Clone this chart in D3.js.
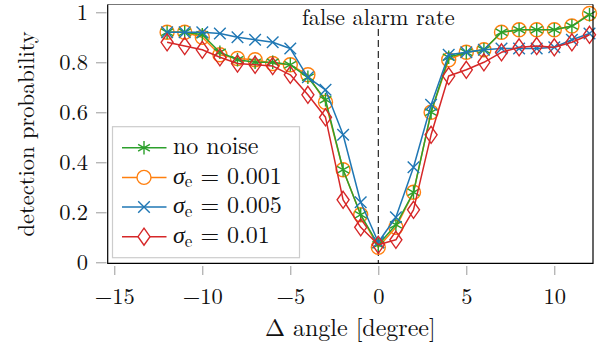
<!DOCTYPE html>
<html><head><meta charset="utf-8">
<script src="https://cdn.jsdelivr.net/npm/d3@7"></script>
<style>
body{margin:0;background:#fff;}
</style></head>
<body>
<svg id="chart" width="608" height="352"></svg>
<script>
// ---- data ----
const angles = [-12,-11,-10,-9,-8,-7,-6,-5,-4,-3,-2,-1,0,1,2,3,4,5,6,7,8,9,10,11,12];
const noNoise   = [0.92,0.92,0.91,0.84,0.81,0.80,0.80,0.79,0.74,0.65,0.37,0.19,0.07,0.15,0.28,0.60,0.82,0.84,0.85,0.92,0.93,0.93,0.93,0.945,0.99];
const sigma001  = [0.92,0.92,0.90,0.83,0.815,0.81,0.795,0.79,0.75,0.64,0.37,0.19,0.06,0.14,0.28,0.60,0.81,0.84,0.85,0.92,0.93,0.93,0.93,0.945,0.995];
const sigma005  = [0.92,0.92,0.92,0.915,0.90,0.89,0.88,0.855,0.74,0.69,0.51,0.24,0.08,0.18,0.38,0.63,0.83,0.84,0.85,0.855,0.855,0.855,0.86,0.89,0.915];
const sigma01   = [0.88,0.865,0.85,0.82,0.795,0.79,0.785,0.75,0.67,0.58,0.25,0.14,0.07,0.09,0.21,0.51,0.745,0.77,0.80,0.84,0.86,0.865,0.86,0.88,0.91];
const xTicks = [-15,-10,-5,0,5,10];
const yTicks = [0,0.2,0.4,0.6,0.8,1];
const seriesNames = ["no noise","σe = 0.001","σe = 0.005","σe = 0.01"];
const xLabel = "Δ angle [degree]";
const yLabel = "detection probability";
const annotation = "false alarm rate";

// ---- layout ----
const box = {left:107.7, right:593, top:4.5, bottom:263.3};
const x = d3.scaleLinear().domain([-15,10]).range([114.3,554.3]);
const y = d3.scaleLinear().domain([0,1]).range([262.3,12.3]);
const FS_TICK = 22.5, FS_ANN = 22.4, FS_XLAB = 24, FS_YLAB = 22.5, FS_LEG = 24;
const FF = '"Latin Modern Roman","Liberation Serif",serif';

const svg = d3.select("#chart");

const series = [
  {name:seriesNames[1], values:sigma001, color:"#ff7f0e", mark:"circle"},
  {name:seriesNames[0], values:noNoise,  color:"#2ca02c", mark:"asterisk"},
  {name:seriesNames[2], values:sigma005, color:"#1f77b4", mark:"cross"},
  {name:seriesNames[3], values:sigma01,  color:"#d62728", mark:"diamond"}
];
const legendOrder = [1,0,2,3];

function markPath(type){
  if(type==="circle"){ const r=7; return `M${r},0A${r},${r} 0 1,1 ${-r},0A${r},${r} 0 1,1 ${r},0Z`; }
  if(type==="cross"){ const s=5.8; return `M${-s},${-s}L${s},${s}M${-s},${s}L${s},${-s}`; }
  if(type==="diamond"){ const w=6,h=8.5; return `M0,${-h}L${w},0L0,${h}L${-w},0Z`; }
  if(type==="asterisk"){ const r=6.8; let p=""; [90,30,150].forEach(a=>{const c=Math.cos(a*Math.PI/180)*r,s=Math.sin(a*Math.PI/180)*r; p+=`M${-c},${-s}L${c},${s}`;}); return p; }
}

// axes
const xAxis = d3.axisBottom(x).tickValues(xTicks).tickSize(9).tickPadding(13).tickFormat(d3.format("~g"));
const gx = svg.append("g").attr("transform","translate(0,266)").call(xAxis);
gx.select(".domain").remove();
gx.selectAll(".tick line").attr("stroke","#999").attr("stroke-width",1);
gx.selectAll(".tick text").attr("fill","#111").attr("font-size",FS_TICK).style("font-family",FF);

const yAxis = d3.axisLeft(y).tickValues(yTicks).tickSize(10.5).tickPadding(8).tickFormat(d3.format("~g"));
const gy = svg.append("g").attr("transform","translate(106.5,0)").call(yAxis);
gy.select(".domain").remove();
gy.selectAll(".tick line").attr("stroke","#999").attr("stroke-width",1);
gy.selectAll(".tick text").attr("fill","#111").attr("font-size",FS_TICK).style("font-family",FF);

// dashed line at 0
svg.append("line").attr("x1",x(0)).attr("x2",x(0)).attr("y1",29).attr("y2",box.bottom)
  .attr("stroke","#111").attr("stroke-width",1.1).attr("stroke-dasharray","7,4");
svg.append("text").attr("x",x(0)).attr("y",24.5).attr("text-anchor","middle")
  .attr("font-size",FS_ANN).attr("fill","#111").style("font-family",FF).text(annotation);

// series
const line = d3.line().x((d,i)=>x(angles[i])).y(d=>y(d));
series.forEach(s=>{
  svg.append("path").datum(s.values).attr("d",line).attr("fill","none")
    .attr("stroke",s.color).attr("stroke-width",1.5).attr("stroke-linejoin","round");
  svg.append("g").selectAll("path").data(s.values).join("path")
    .attr("transform",(d,i)=>`translate(${x(angles[i])},${y(d)})`)
    .attr("d",markPath(s.mark)).attr("fill","none").attr("stroke",s.color).attr("stroke-width",1.4);
});

// frame
svg.append("line").attr("x1",box.left).attr("x2",box.right).attr("y1",box.top).attr("y2",box.top).attr("stroke","#777").attr("stroke-width",1.2);
svg.append("path").attr("d",`M${box.left},${box.top}V${box.bottom}H${box.right}V${box.top}`)
  .attr("fill","none").attr("stroke","#000").attr("stroke-width",1.2);

// legend
const lg = svg.append("g");
lg.append("rect").attr("x",112.5).attr("y",126.7).attr("width",187).attr("height",131)
  .attr("fill","#fff").attr("stroke","#ccc").attr("stroke-width",1.2);
const rowBase = [154,183.7,213.3,243];
legendOrder.forEach((si,k)=>{
  const s = series[si];
  const gy0 = rowBase[k] - 6.3;
  lg.append("line").attr("x1",122).attr("x2",166.5).attr("y1",gy0).attr("y2",gy0).attr("stroke",s.color).attr("stroke-width",1.5);
  lg.append("path").attr("transform",`translate(144,${gy0})`).attr("d",markPath(s.mark))
    .attr("fill",s.mark==="asterisk"?"none":"#fff").attr("stroke",s.color).attr("stroke-width",1.4);
  const t = lg.append("text").attr("x",173).attr("y",rowBase[k]).attr("font-size",FS_LEG).attr("fill","#111").style("font-family",FF);
  const nm = s.name;
  if(nm.startsWith("σ")){
    t.append("tspan").style("font-style","italic").text("σ");
    t.append("tspan").attr("font-size",17).attr("dy",3.7).text("e");
    t.append("tspan").attr("dy",-3.7).text(" " + nm.slice(3));
  } else {
    t.text(nm);
  }
});

// axis labels
svg.append("text").attr("x",(box.left+box.right)/2).attr("y",335.5).attr("text-anchor","middle").attr("font-size",FS_XLAB).attr("fill","#111").style("font-family",FF).text(xLabel);
svg.append("text").attr("transform",`translate(34,${(box.top+box.bottom)/2}) rotate(-90)`).attr("text-anchor","middle").attr("font-size",FS_YLAB).attr("fill","#111").style("font-family",FF).text(yLabel);
</script>
</body></html>
